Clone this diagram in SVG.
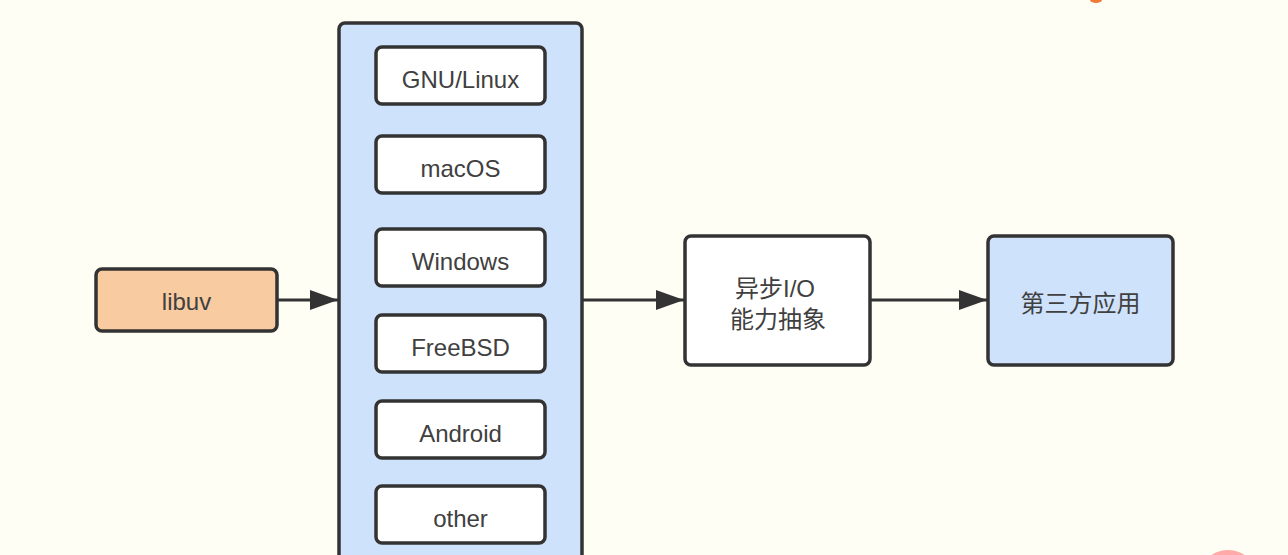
<svg xmlns="http://www.w3.org/2000/svg" width="1288" height="555" viewBox="0 0 1288 555">
<defs>
<style>
.box{stroke:#333;stroke-width:3.5}
.t{font-family:"Liberation Sans","Noto Sans CJK SC",sans-serif;font-size:24px;fill:#404040;text-anchor:middle;dominant-baseline:central}
.c{stroke:#333;stroke-width:3;fill:none}
</style>
<marker id="ah" markerWidth="28" markerHeight="22" refX="28" refY="11" orient="auto" markerUnits="userSpaceOnUse">
<path d="M0,1 L28,11 L0,21 Z" fill="#333"/>
</marker>
</defs>
<rect width="1288" height="555" fill="#fffef5"/>
<g id="libuv">
<rect class="box" x="96" y="269" width="181" height="62" rx="6" fill="#f8cba0"/>
<text class="t" x="186.5" y="301">libuv</text>
</g>
<g id="platforms">
<rect class="box" x="339" y="23" width="243" height="560" rx="6" fill="#cfe2fb"/>
<g id="gnulinux"><rect class="box" x="376" y="47" width="169" height="57" rx="6" fill="#fff"/><text class="t" x="460.5" y="79">GNU/Linux</text></g>
<g id="macos"><rect class="box" x="376" y="136" width="169" height="57" rx="6" fill="#fff"/><text class="t" x="460.5" y="168">macOS</text></g>
<g id="windows"><rect class="box" x="376" y="229" width="169" height="57" rx="6" fill="#fff"/><text class="t" x="460.5" y="261">Windows</text></g>
<g id="freebsd"><rect class="box" x="376" y="315" width="169" height="57" rx="6" fill="#fff"/><text class="t" x="460.5" y="347">FreeBSD</text></g>
<g id="android"><rect class="box" x="376" y="401" width="169" height="57" rx="6" fill="#fff"/><text class="t" x="460.5" y="433">Android</text></g>
<g id="other"><rect class="box" x="376" y="486" width="169" height="57" rx="6" fill="#fff"/><text class="t" x="460.5" y="518">other</text></g>
</g>
<g id="asyncio">
<rect class="box" x="685" y="236" width="185" height="129" rx="6" fill="#fff"/>
<text class="t" x="775" y="288">异步I/O</text>
<text class="t" x="778" y="319">能力抽象</text>
</g>
<g id="thirdparty">
<rect class="box" x="988" y="236" width="185" height="129" rx="6" fill="#cfe2fb"/>
<text class="t" x="1080.5" y="303">第三方应用</text>
</g>
<g id="connectors">
<line class="c" x1="277" y1="300" x2="338" y2="300" marker-end="url(#ah)"/>
<line class="c" x1="582" y1="300" x2="684" y2="300" marker-end="url(#ah)"/>
<line class="c" x1="870" y1="300" x2="987" y2="300" marker-end="url(#ah)"/>
</g>
<circle cx="1228" cy="580" r="30" fill="#ffaaa8"/>
<ellipse cx="1096" cy="0" rx="6" ry="3" fill="#f07a3a"/>
</svg>
